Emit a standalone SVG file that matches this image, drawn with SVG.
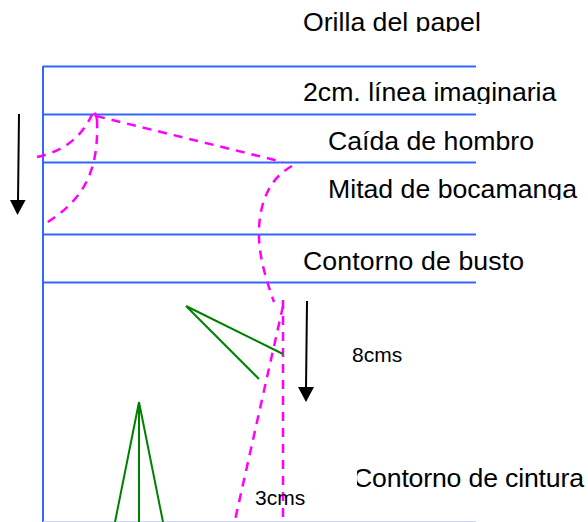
<svg xmlns="http://www.w3.org/2000/svg" width="588" height="522" viewBox="0 0 588 522">
<style>
text{font-family:"Liberation Sans",Arial,sans-serif;fill:#000}
.l{font-size:26.67px}
.s{font-size:21px}
.b{stroke:#3366ff;stroke-width:2;fill:none}
.m{stroke:#ff00ff;stroke-width:2.500;fill:none;stroke-dasharray:9 7}
.g{stroke:#008000;stroke-width:2;fill:none}
.k{stroke:#000;stroke-width:2;fill:none}
</style>
<defs>
<clipPath id="c1"><rect x="290" y="0" width="298" height="32"/></clipPath>
<clipPath id="c2"><rect x="290" y="70" width="298" height="34"/></clipPath>
<clipPath id="c3"><rect x="290" y="170" width="298" height="30"/></clipPath>
<clipPath id="c4"><rect x="357" y="450" width="231" height="50"/></clipPath>
</defs>
<g id="grid">
<path class="b" d="M43 66.500H476M43 114.500H476M43 162.500H476M43 234.500H476M43 282.500H476M43 66V522"/>
<path d="M43 521.500H476" stroke="#c8d4fb" stroke-width="1" fill="none"/>
</g>
<g id="connectors">
<path class="m" d="M37 157C60 152 82 140 94 110L97 119"/>
<path class="m" d="M97 119C99 170 85 200 43 225"/>
<path class="m" d="M96 116L283 162"/>
<path class="m" d="M292 166C262 182 256 220 260 250C263 270 268 285 274 302"/>
<path class="m" d="M283 306L235 520"/>
<path class="m" d="M283 300V522"/>
<path class="g" d="M186 306L283 354M186 306L259 379"/>
<path class="g" d="M139 402L115 522M139 402V522M139 402L163 522"/>
<path class="k" d="M19 114L18 202"/>
<path d="M10 200H25.600L17.500 215Z" fill="#000"/>
<path class="k" d="M307 301L306 389"/>
<path d="M298 387H314L306 402Z" fill="#000"/>
</g>
<g id="label-orilla"><text class="l" x="303" y="31" clip-path="url(#c1)">Orilla del papel</text></g>
<g id="label-linea"><text class="l" x="303" y="101" clip-path="url(#c2)">2cm. línea imaginaria</text></g>
<g id="label-caida"><text class="l" x="328" y="150">Caída de hombro</text></g>
<g id="label-mitad"><text class="l" x="328" y="198" clip-path="url(#c3)">Mitad de bocamanga</text></g>
<g id="label-busto"><text class="l" x="303" y="270" textLength="221">Contorno de busto</text></g>
<g id="label-8cms"><text class="s" x="352" y="362">8cms</text></g>
<g id="label-cintura"><text class="l" x="353" y="487" textLength="231" clip-path="url(#c4)">Contorno de cintura</text></g>
<g id="label-3cms"><text class="s" x="255" y="505">3cms</text></g>
</svg>
